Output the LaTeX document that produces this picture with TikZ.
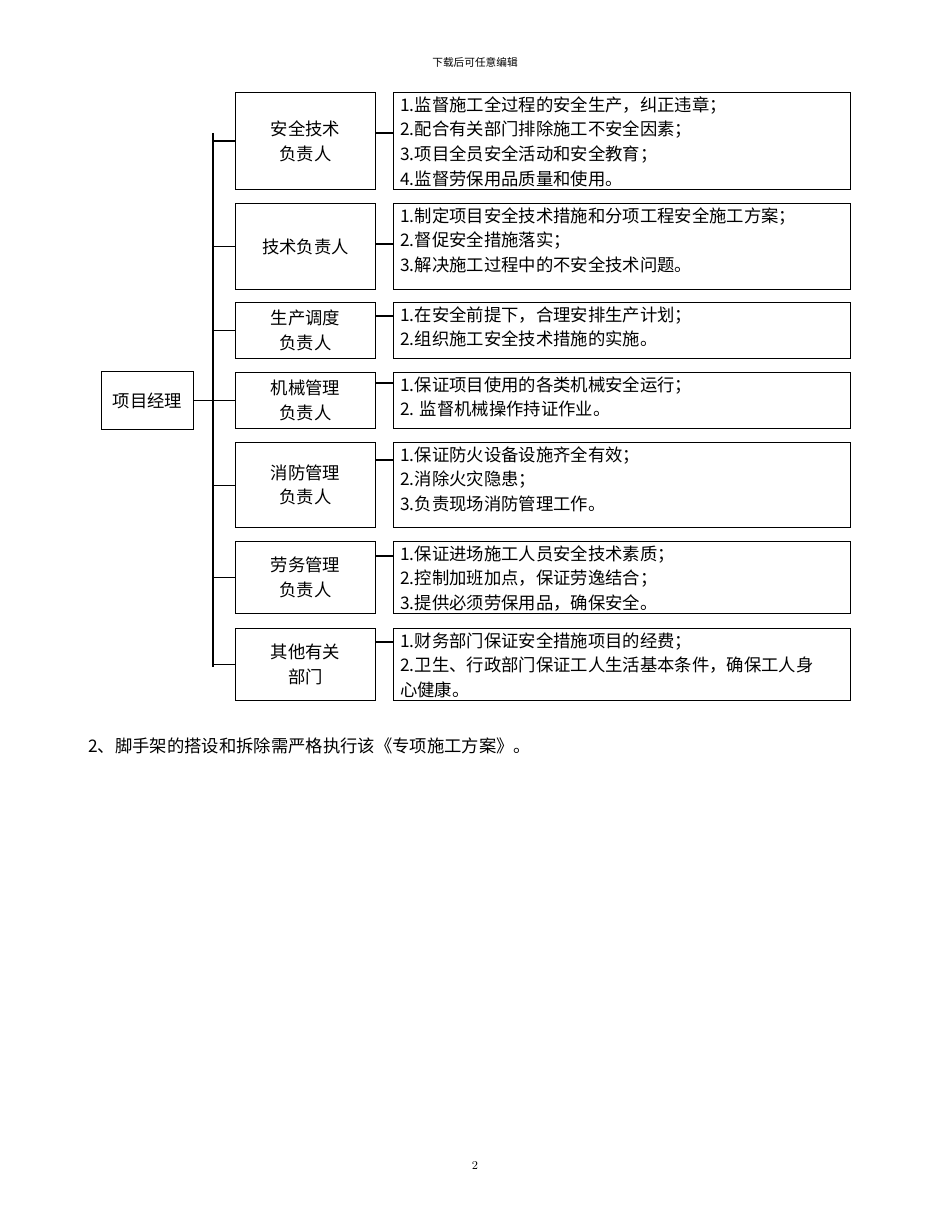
\documentclass[tikz,border=0pt]{standalone}
\usepackage{fontspec}
\newfontfamily\cjk{Noto Sans CJK SC}
\begin{document}
\begin{tikzpicture}[x=0.75pt,y=-0.75pt,
  bx/.style={draw,line width=0.8pt,anchor=north west,inner sep=0pt},
  tx/.style={font=\cjk\fontsize{13}{18.5}\selectfont,align=left,anchor=north west,inner sep=0pt},
  ln/.style={line width=0.8pt}]
\useasboundingbox (0,0) rectangle (950,1230);
\node[font=\cjk\fontsize{8}{10}\selectfont] (hd) at (475,62) {下载后可任意编辑};
\node[bx,minimum width=92*0.75pt,minimum height=58*0.75pt,font=\cjk\fontsize{13}{18}\selectfont] (pm) at (101,371) {};
\node[font=\cjk\fontsize{13}{18}\selectfont] at (pm.center) {项目经理};
\coordinate (vt) at (213,133);
\coordinate (vb) at (213,667);
\draw[ln] (vt) -- (vb);
\draw[ln] (pm.east) -- (pm.east -| vt);
\foreach \i/\t/\b/\c/\L/\R in {
 1/92/189/133/{安全技术\\负责人}/{1.监督施工全过程的安全生产，纠正违章；\\2.配合有关部门排除施工不安全因素；\\3.项目全员安全活动和安全教育；\\4.监督劳保用品质量和使用。},
 2/203/289/244/{技术负责人}/{1.制定项目安全技术措施和分项工程安全施工方案；\\2.督促安全措施落实；\\3.解决施工过程中的不安全技术问题。},
 3/302/358/316/{生产调度\\负责人}/{1.在安全前提下，合理安排生产计划；\\2.组织施工安全技术措施的实施。},
 4/372/428/383/{机械管理\\负责人}/{1.保证项目使用的各类机械安全运行；\\2. 监督机械操作持证作业。},
 5/442/527/460/{消防管理\\负责人}/{1.保证防火设备设施齐全有效；\\2.消除火灾隐患；\\3.负责现场消防管理工作。},
 6/541/613/556/{劳务管理\\负责人}/{1.保证进场施工人员安全技术素质；\\2.控制加班加点，保证劳逸结合；\\3.提供必须劳保用品，确保安全。},
 7/628/700/642/{其他有关\\部门}/{1.财务部门保证安全措施项目的经费；\\2.卫生、行政部门保证工人生活基本条件，确保工人身\\心健康。}}
{
 \node[bx,minimum width=140*0.75pt,minimum height={(\b-\t)*0.75pt}] (l\i) at (235,\t) {};
 \node[font=\cjk\fontsize{13}{18.5}\selectfont,align=center] at (l\i.center) {\L};
 \node[bx,minimum width=457*0.75pt,minimum height={(\b-\t)*0.75pt}] (r\i) at (393,\t) {};
 \node[tx] (t\i) at (400,\t+4) {\R};
 \draw[ln] (l\i.west) -- (l\i.west -| vt);
 \coordinate (c\i) at (384,\c);
 \draw[ln] (c\i -| l\i.east) -- (c\i -| r\i.west);
}
\node[font=\cjk\fontsize{13}{18}\selectfont,anchor=west,inner sep=0pt] (p2) at (88,746) {2、脚手架的搭设和拆除需严格执行该《专项施工方案》。};
\node[font=\fontsize{9}{11}\selectfont] (pg) at (475,1165) {2};
\end{tikzpicture}
\end{document}
